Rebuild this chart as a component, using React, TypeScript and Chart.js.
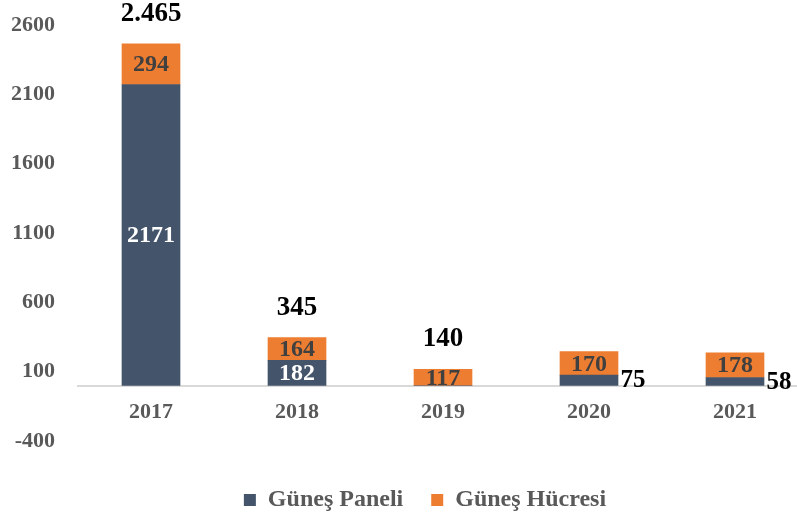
import React, { useEffect, useRef } from 'react';
import { Chart, registerables } from 'chart.js';

Chart.register(...registerables);

const years = ['2017', '2018', '2019', '2020', '2021'];
const seriesNames = ['Güneş Paneli', 'Güneş Hücresi'];
const panelValues = [2171, 182, 0, 75, 58];
const cellValues = [294, 164, 117, 170, 178];
const totalLabels: (string | null)[] = ['2.465', '345', '140', null, null];
const sideLabels: (string | null)[] = [null, null, null, '75', '58'];
const yMin = -400;
const yMax = 2600;
const yStep = 500;

const FONT = "'Liberation Serif', 'Times New Roman', serif";
const PANEL_COLOR = '#44546A';
const CELL_COLOR = '#ED7D31';
const TEXT_GRAY = '#595959';

const labelPlugin = {
  id: 'barLabels',
  afterLayout(chart: any) {
    const lg = chart.legend;
    if (lg) {
      lg.left += 21;
      lg.right += 21;
    }
  },
  afterDatasetsDraw(chart: any) {
    const ctx = chart.ctx;
    const yScale = chart.scales.y;
    const m0 = chart.getDatasetMeta(0);
    const m1 = chart.getDatasetMeta(1);
    ctx.save();
    ctx.textAlign = 'center';
    ctx.textBaseline = 'middle';
    m0.data.forEach((bar: any, i: number) => {
      const p = bar.getProps(['x', 'y', 'base'], true);
      const h = p.base - p.y;
      if (h >= 20) {
        ctx.font = `bold 24px ${FONT}`;
        ctx.fillStyle = '#FFFFFF';
        ctx.fillText(String(panelValues[i]), p.x, (p.y + p.base) / 2 + 1);
      }
    });
    m1.data.forEach((bar: any, i: number) => {
      const p = bar.getProps(['x', 'y', 'base'], true);
      ctx.font = `bold 24px ${FONT}`;
      ctx.fillStyle = '#404040';
      ctx.fillText(String(cellValues[i]), p.x, (p.y + p.base) / 2 + 1);
      const t = totalLabels[i];
      if (t) {
        ctx.font = `bold 27px ${FONT}`;
        ctx.fillStyle = '#000000';
        ctx.fillText(t, p.x, p.y - 30);
      }
      const s = sideLabels[i];
      if (s) {
        ctx.font = `bold 25px ${FONT}`;
        ctx.fillStyle = '#000000';
        ctx.fillText(s, p.x + 44, yScale.getPixelForValue(panelValues[i]) + 5);
      }
    });
    ctx.restore();
  },
};

export default function App() {
  const canvasRef = useRef<HTMLCanvasElement | null>(null);

  useEffect(() => {
    if (!canvasRef.current) return;
    const chart = new Chart(canvasRef.current, {
      type: 'bar',
      data: {
        labels: years,
        datasets: [
          {
            label: seriesNames[0],
            data: panelValues,
            backgroundColor: PANEL_COLOR,
            borderWidth: 0,
            barThickness: 58,
          },
          {
            label: seriesNames[1],
            data: cellValues,
            backgroundColor: CELL_COLOR,
            borderWidth: 0,
            barThickness: 58,
          },
        ],
      },
      options: {
        responsive: false,
        animation: false,
        devicePixelRatio: 1,
        layout: { padding: { top: 25, right: 42, left: 0, bottom: 0 } },
        plugins: {
          tooltip: { enabled: false },
          legend: {
            position: 'bottom',
            title: {
              display: true,
              text: ' ',
              color: 'rgba(0,0,0,0)',
              font: { size: 2, lineHeight: 1 },
              padding: { top: 17, bottom: 0 },
            },
            labels: {
              boxWidth: 12,
              boxHeight: 12,
              padding: 28,
              color: TEXT_GRAY,
              font: { family: FONT, size: 24, weight: 'bold' },
            },
          },
        },
        scales: {
          x: {
            stacked: true,
            position: { y: 0 } as any,
            grid: { display: false, drawTicks: false },
            border: { display: true, color: '#D9D9D9', width: 2 },
            ticks: {
              color: TEXT_GRAY,
              padding: 14,
              font: { family: FONT, size: 22, weight: 'bold' },
            },
          },
          y: {
            stacked: true,
            min: yMin,
            max: yMax,
            grid: { display: false, drawTicks: false },
            border: { display: false },
            ticks: {
              stepSize: yStep,
              color: TEXT_GRAY,
              padding: 23,
              font: { family: FONT, size: 22, weight: 'bold' },
              callback: (v: any) => String(v),
            },
            afterFit: (scale: any) => {
              scale.width = 78;
              scale.paddingTop = 13;
              scale.paddingBottom = 13;
            },
          },
        },
      },
      plugins: [labelPlugin],
    });
    return () => chart.destroy();
  }, []);

  return (
    <div
      style={{
        position: 'fixed',
        left: 0,
        top: 0,
        width: 797,
        height: 518,
        overflow: 'hidden',
        background: '#FFFFFF',
      }}
    >
      <canvas ref={canvasRef} width={850} height={522} style={{ display: 'block' }} />
    </div>
  );
}
